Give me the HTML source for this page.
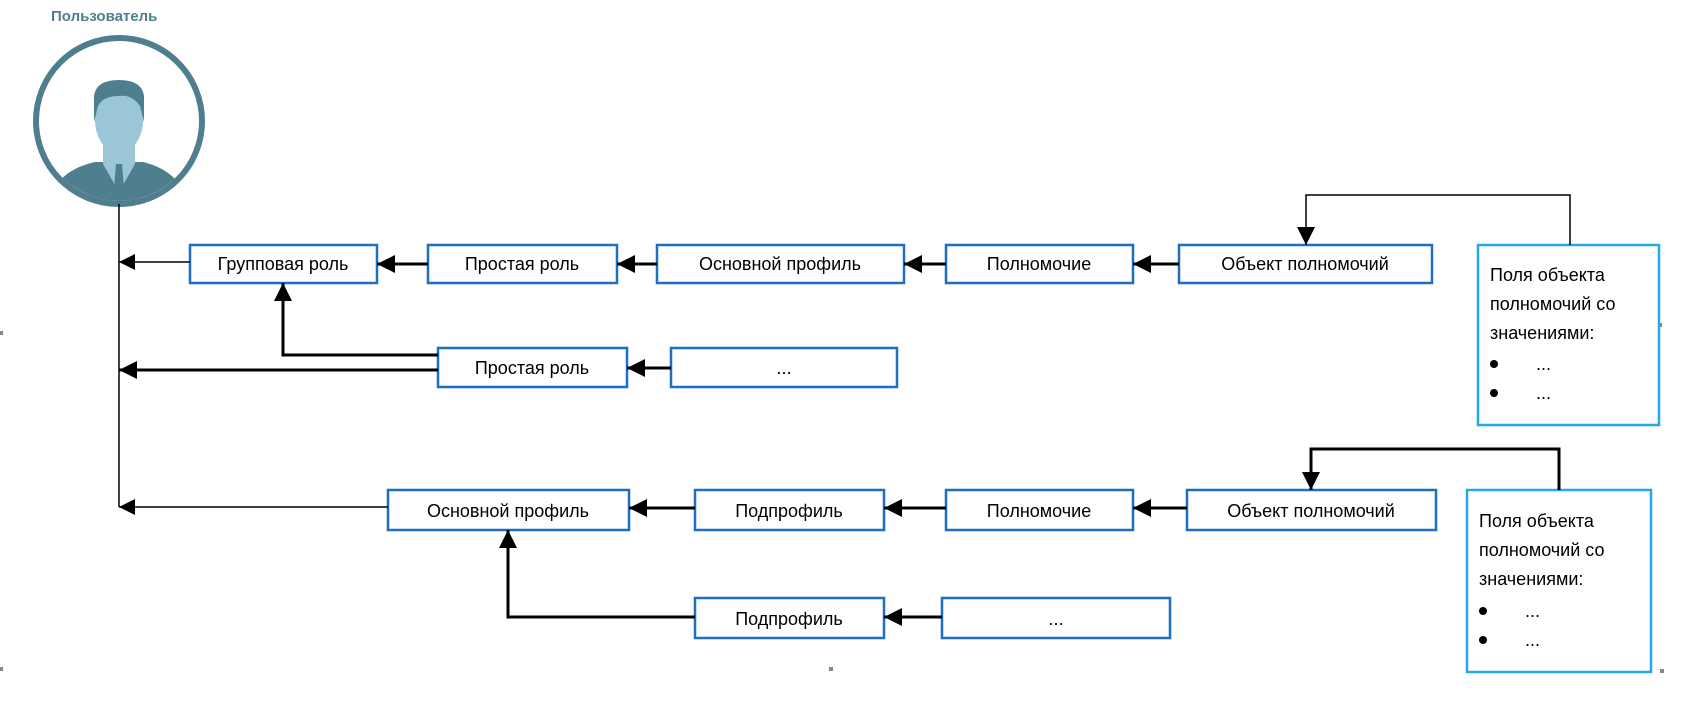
<!DOCTYPE html>
<html><head><meta charset="utf-8"><style>
html,body{margin:0;padding:0;background:#fff;}
svg text{font-family:"Liberation Sans",sans-serif;}
</style></head><body>
<svg width="1686" height="699" viewBox="0 0 1686 699" xmlns="http://www.w3.org/2000/svg">
<defs>
<marker id="a" viewBox="0 0 10 10" refX="10" refY="5" markerWidth="16" markerHeight="16" markerUnits="userSpaceOnUse" orient="auto"><path d="M0,0L10,5L0,10z" fill="#000"/></marker>
<marker id="b" viewBox="0 0 10 10" refX="10" refY="5" markerWidth="20" markerHeight="18" markerUnits="userSpaceOnUse" orient="auto"><path d="M0,0L10,5L0,10z" fill="#000"/></marker>
</defs>
<text x="51" y="21" font-size="15" font-weight="bold" fill="#4f7f8e">Пользователь</text>
<clipPath id="c"><circle cx="119" cy="121" r="80"/></clipPath>
<circle cx="119" cy="121" r="83" fill="#fff" stroke="#4f7f8e" stroke-width="6"/>
<g clip-path="url(#c)">
<path d="M45,215 Q50,172 95,162 L143,162 Q185,172 192,215 Z" fill="#4f7f8e"/>
<path d="M103,140 L103,164 L119,192 L135,164 L135,140 Z" fill="#9ac6d5"/>
<path d="M116,164 L122,164 L124,188 L119,195 L114,188 Z" fill="#4f7f8e"/>
<ellipse cx="119" cy="120" rx="24" ry="33" fill="#9ac6d5"/>
<path d="M94,122 L94,96 Q96,80 119,80 Q142,80 144,96 L144,122 L140,106 Q132,94 119,96 Q103,96 98,106 Z" fill="#4f7f8e"/>
</g>
<line x1="119" y1="204" x2="119" y2="507" stroke="#000" stroke-width="1.5"/>
<g fill="#fff" stroke="#1f6fc0" stroke-width="2.5">
<rect x="190" y="245" width="187" height="38"/>
<rect x="428" y="245" width="189" height="38"/>
<rect x="657" y="245" width="247" height="38"/>
<rect x="946" y="245" width="187" height="38"/>
<rect x="1179" y="245" width="253" height="38"/>
<rect x="438" y="348" width="189" height="39"/>
<rect x="671" y="348" width="226" height="39"/>
<rect x="388" y="490" width="241" height="40"/>
<rect x="695" y="490" width="189" height="40"/>
<rect x="946" y="490" width="187" height="40"/>
<rect x="1187" y="490" width="249" height="40"/>
<rect x="695" y="598" width="189" height="40"/>
<rect x="942" y="598" width="228" height="40"/>
</g>
<g fill="#fff" stroke="#22a9e6" stroke-width="2.5">
<rect x="1478" y="245" width="181" height="180"/>
<rect x="1467" y="490" width="184" height="182"/>
</g>
<g font-size="18" fill="#000" text-anchor="middle">
<text x="283" y="270">Групповая роль</text>
<text x="522" y="270">Простая роль</text>
<text x="780" y="270">Основной профиль</text>
<text x="1039" y="270">Полномочие</text>
<text x="1305" y="270">Объект полномочий</text>
<text x="532" y="374">Простая роль</text>
<text x="784" y="374">...</text>
<text x="508" y="517">Основной профиль</text>
<text x="789" y="517">Подпрофиль</text>
<text x="1039" y="517">Полномочие</text>
<text x="1311" y="517">Объект полномочий</text>
<text x="789" y="625">Подпрофиль</text>
<text x="1056" y="625">...</text>
</g>
<g font-size="18" fill="#000">
<text x="1490" y="281">Поля объекта</text>
<text x="1490" y="310">полномочий со</text>
<text x="1490" y="339">значениями:</text>
<text x="1536" y="370">...</text>
<text x="1536" y="399">...</text>
<circle cx="1494" cy="364" r="4"/>
<circle cx="1494" cy="393" r="4"/>
<text x="1479" y="527">Поля объекта</text>
<text x="1479" y="556">полномочий со</text>
<text x="1479" y="585">значениями:</text>
<text x="1525" y="617">...</text>
<text x="1525" y="646">...</text>
<circle cx="1483" cy="611" r="4"/>
<circle cx="1483" cy="640" r="4"/>
</g>
<g stroke="#000" fill="none">
<line x1="190" y1="262" x2="119" y2="262" stroke-width="1.5" marker-end="url(#a)"/>
<line x1="428" y1="264" x2="377" y2="264" stroke-width="3" marker-end="url(#b)"/>
<line x1="657" y1="264" x2="617" y2="264" stroke-width="3" marker-end="url(#b)"/>
<line x1="946" y1="264" x2="904" y2="264" stroke-width="3" marker-end="url(#b)"/>
<line x1="1179" y1="264" x2="1133" y2="264" stroke-width="3" marker-end="url(#b)"/>
<polyline points="1570,245 1570,195 1306,195 1306,245" stroke-width="1.5" marker-end="url(#b)"/>
<polyline points="438,355 283,355 283,283" stroke-width="3" marker-end="url(#b)"/>
<line x1="438" y1="370" x2="119" y2="370" stroke-width="3" marker-end="url(#b)"/>
<line x1="671" y1="368" x2="627" y2="368" stroke-width="3" marker-end="url(#b)"/>
<line x1="388" y1="507" x2="119" y2="507" stroke-width="1.5" marker-end="url(#a)"/>
<line x1="695" y1="508" x2="629" y2="508" stroke-width="3" marker-end="url(#b)"/>
<line x1="946" y1="508" x2="884" y2="508" stroke-width="3" marker-end="url(#b)"/>
<line x1="1187" y1="508" x2="1133" y2="508" stroke-width="3" marker-end="url(#b)"/>
<polyline points="1559,490 1559,449 1311,449 1311,490" stroke-width="3" marker-end="url(#b)"/>
<polyline points="695,617 508,617 508,530" stroke-width="3" marker-end="url(#b)"/>
<line x1="942" y1="617" x2="884" y2="617" stroke-width="3" marker-end="url(#b)"/>
</g>
<g fill="#888">
<rect x="0" y="331" width="3" height="4"/>
<rect x="0" y="667" width="3" height="4"/>
<rect x="829" y="667" width="4" height="4"/>
<rect x="1659" y="323" width="3" height="4"/>
<rect x="1660" y="669" width="4" height="4"/>
</g>
</svg>
</body></html>
